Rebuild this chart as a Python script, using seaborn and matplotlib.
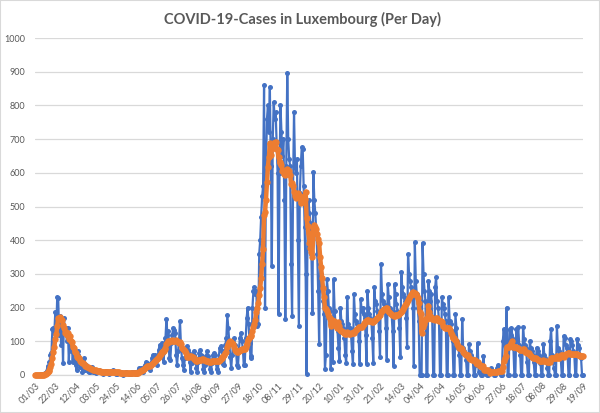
import numpy as np
import pandas as pd
import seaborn as sns
import matplotlib.pyplot as plt
from matplotlib.patches import Rectangle

# ---------------- data ----------------
start_date = "2020-03-01"

cases_2020 = [
    0, 0, 0, 0, 1, 1, 2,
    1, 3, 2, 5, 7, 12, 26,
    20, 38, 59, 64, 136, 140, 126,
    186, 132, 232, 228, 120, 175, 90,
    160, 37, 170, 125, 140, 100, 140,
    40, 100, 70, 95, 40, 75, 55,
    30, 15, 70, 60, 40, 25, 30,
    10, 20, 50, 15, 30, 20, 12,
    8, 10, 20, 25, 10, 15, 10,
    5, 8, 12, 15, 10, 12, 8,
    4, 6, 10, 12, 8, 10, 6,
    3, 5, 12, 10, 15, 8, 5,
    2, 4, 8, 10, 6, 8, 4,
    1, 3, 6, 8, 7, 6, 4,
    2, 4, 8, 10, 6, 8, 4,
    3, 8, 12, 20, 18, 22, 15,
    10, 25, 30, 40, 35, 30, 20,
    15, 35, 50, 60, 55, 60, 45,
    30, 55, 75, 90, 85, 95, 65,
    40, 80, 110, 165, 120, 130, 50,
    45, 95, 120, 140, 135, 125, 60,
    30, 70, 100, 160, 90, 50, 30,
    15, 50, 60, 85, 75, 65, 40,
    10, 35, 55, 70, 60, 50, 20,
    10, 40, 65, 75, 60, 55, 17,
    8, 30, 55, 70, 55, 45, 17,
    8, 35, 60, 65, 60, 40, 19,
    10, 45, 80, 85, 70, 70, 32,
    30, 90, 110, 178, 140, 100, 52,
    20, 60, 95, 110, 90, 70, 30,
    25, 75, 110, 125, 100, 80, 30,
    30, 110, 170, 200, 150, 95, 50,
    55, 200, 250, 260, 240, 250, 145,
    150, 360, 400, 470, 530, 560, 860,
    200, 620, 760, 800, 720, 855, 620,
    324, 700, 810, 760, 780, 690, 600,
    180, 600, 800, 720, 650, 700, 520,
    165, 620, 897, 700, 640, 620, 330,
    175, 560, 780, 620, 600, 640, 400,
    145, 540, 620, 676, 671, 560, 440,
    300, 2, 450, 520, 480, 450, 360,
    185, 602, 520, 480, 430, 360, 250,
    91, 329, 300, 260, 220, 180, 17,
    60, 285, 250, 200, 190,
]

cases_2021 = [
    17, 150,
    40, 284, 190, 150, 150, 130, 80,
    41, 200, 160, 150, 140, 110, 60,
    35, 230, 150, 130, 140, 120, 70,
    32, 240, 180, 160, 150, 140, 100,
    32, 225, 190, 200, 180, 170, 120,
    32, 250, 200, 180, 170, 160, 110,
    37, 260, 220, 210, 190, 180, 130,
    52, 329, 240, 220, 210, 200, 140,
    45, 270, 230, 200, 190, 180, 130,
    27, 270, 240, 210, 190, 180, 140,
    52, 305, 260, 240, 230, 220, 170,
    82, 359, 300, 280, 260, 250, 200,
    27, 394, 280, 240, 200, 160, 0,
    0, 0, 392, 300, 250, 220, 0,
    0, 280, 250, 220, 240, 165, 0,
    0, 260, 290, 220, 200, 160, 0,
    0, 231, 210, 200, 180, 160, 0,
    0, 231, 160, 150, 130, 100, 0,
    0, 180, 140, 100, 80, 60, 0,
    0, 165, 80, 70, 60, 45, 0,
    0, 91, 70, 60, 50, 45, 0,
    0, 30, 40, 96, 10, 5, 0,
    0, 20, 56, 10, 5, 3, 0,
    0, 10, 15, 20, 10, 5, 0,
    0, 10, 20, 30, 15, 10, 0,
    0, 100, 136, 90, 60, 200, 0,
    0, 136, 120, 140, 110, 80, 0,
    0, 136, 100, 141, 90, 60, 0,
    0, 141, 106, 90, 80, 40, 0,
    0, 101, 80, 70, 60, 40, 0,
    0, 81, 70, 60, 50, 35, 0,
    0, 91, 60, 50, 45, 20, 0,
    0, 100, 136, 60, 40, 20, 0,
    0, 146, 80, 70, 60, 50, 0,
    0, 116, 110, 90, 80, 60, 0,
    0, 106, 100, 90, 70, 60, 0,
    0, 106, 90, 80, 60, 50, 0,
    0,
]

tick_labels = ["01/03", "22/03", "12/04", "03/05", "24/05", "14/06", "05/07",
               "26/07", "16/08", "06/09", "27/09", "18/10", "08/11", "29/11",
               "20/12", "10/01", "31/01", "21/02", "14/03", "04/04", "25/04",
               "16/05", "06/06", "27/06", "18/07", "08/08", "29/08", "19/09"]

title = "COVID-19-Cases in Luxembourg (Per Day)"

# ---------------- build frame ----------------
cases = cases_2020 + cases_2021
df = pd.DataFrame({
    "date": pd.date_range(start_date, periods=len(cases)),
    "day": np.arange(len(cases)),
    "cases": cases,
})
df["avg7"] = df["cases"].rolling(7, min_periods=1).mean()

# ---------------- plot ----------------
sns.set_theme(style="white")
plt.rcParams["font.family"] = ["Lato", "DejaVu Sans"]

W, H = 600, 413
fig = plt.figure(figsize=(W / 100, H / 100), dpi=100)
ax = fig.add_axes([35 / W, 38 / H, 548 / W, 337 / H])

sns.lineplot(data=df, x="day", y="cases", ax=ax, color="#4472C4", lw=1.6,
             marker="o", markersize=3.6, markeredgewidth=0, legend=False,
             clip_on=False, zorder=3)
sns.lineplot(data=df, x="day", y="avg7", ax=ax, color="#ED7D31", lw=3.2,
             marker="o", markersize=4.6, markeredgewidth=0, legend=False,
             clip_on=False, zorder=4)

ax.set_xlim(0, len(cases) - 1)
ax.set_ylim(0, 1000)
ax.set_yticks(range(0, 1001, 100))
ax.set_xticks(np.arange(0, len(cases), 21))
ax.set_xticklabels(tick_labels, rotation=45, ha="right", rotation_mode="anchor")
ax.set_xlabel("")
ax.set_ylabel("")

ax.yaxis.grid(True, color="#d9d9d9", lw=0.9)
ax.xaxis.grid(False)
ax.set_axisbelow(True)
for s in ["top", "right", "left"]:
    ax.spines[s].set_visible(False)
ax.spines["bottom"].set_color("#d9d9d9")
ax.spines["bottom"].set_linewidth(0.9)
ax.tick_params(axis="both", length=0, labelsize=6.5, colors="#595959")
ax.tick_params(axis="y", pad=7)
ax.tick_params(axis="x", pad=4)

fig.text(302 / W, 1 - 19 / H, title, ha="center", va="center",
         fontsize=10.5, fontweight="bold", color="#595959")

fig.patches.append(Rectangle((0, 0), 1, 1, transform=fig.transFigure,
                             fill=False, edgecolor="#d9d9d9", lw=1.5))

fig.savefig("out.png", dpi=100)
